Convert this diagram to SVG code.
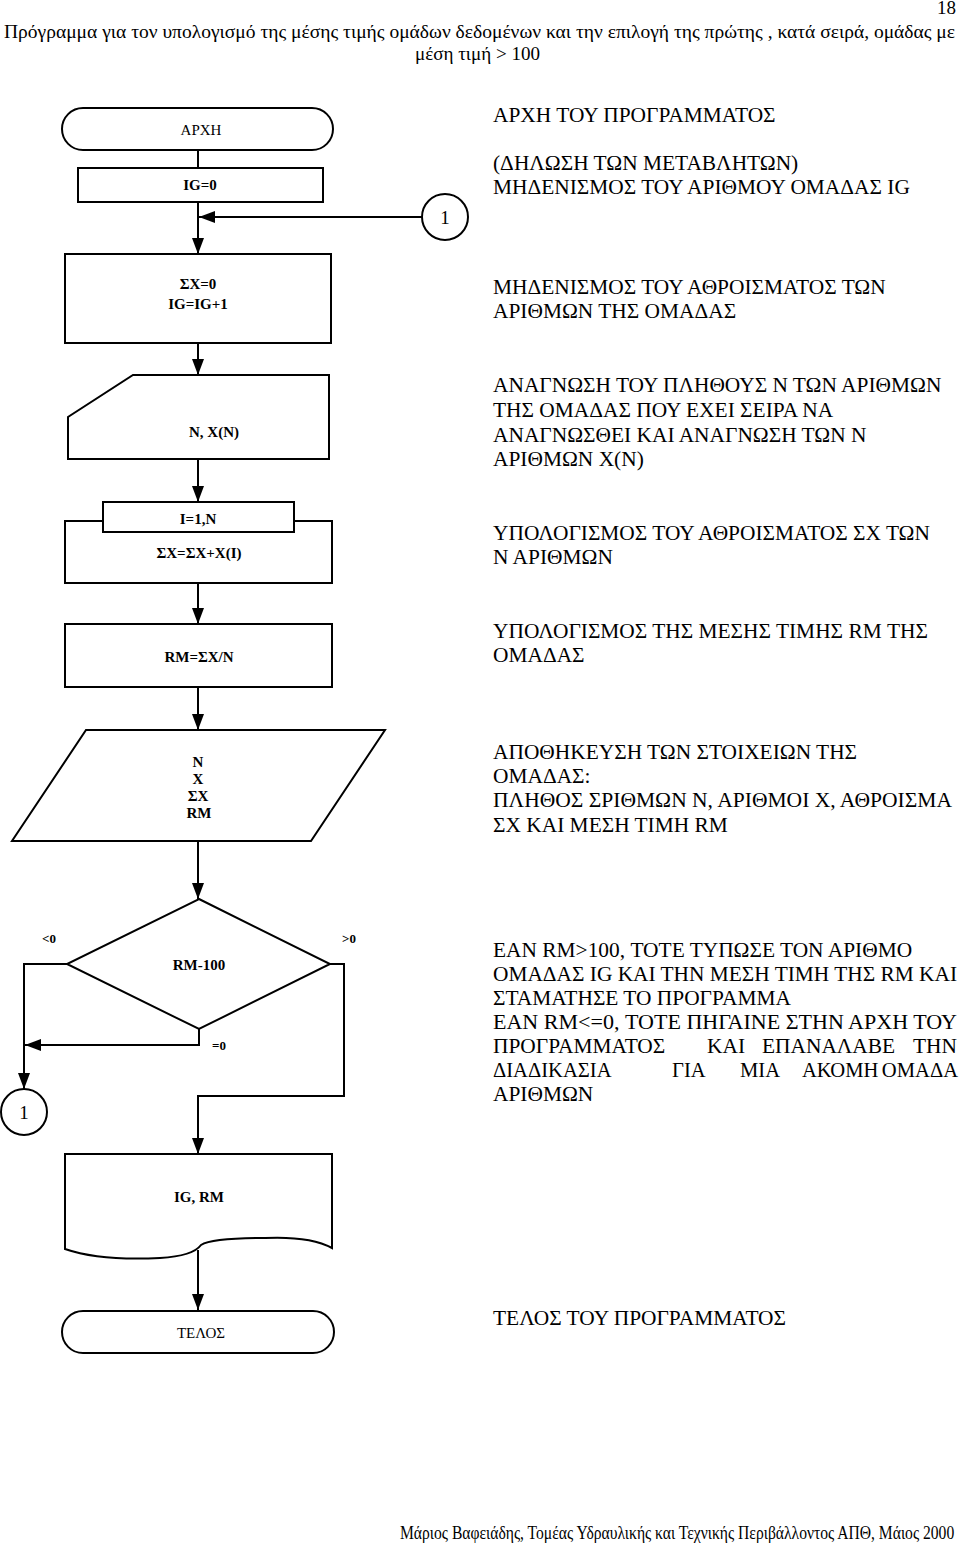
<svg xmlns="http://www.w3.org/2000/svg" width="960" height="1546" viewBox="0 0 960 1546">
<style>
.sh{fill:#fff;stroke:#000;stroke-width:2}
.ln{fill:none;stroke:#000;stroke-width:2}
.nb{font-family:"Liberation Serif","Times New Roman",serif;font-size:15px;font-weight:bold;text-anchor:middle;fill:#000}
.nr{font-family:"Liberation Serif","Times New Roman",serif;font-size:15px;text-anchor:middle;fill:#000}
.lb{font-family:"Liberation Serif","Times New Roman",serif;font-size:13px;font-weight:bold;fill:#000}
.cn{font-family:"Liberation Serif","Times New Roman",serif;font-size:19px;text-anchor:middle;fill:#000}
.rt{font-family:"Liberation Serif","Times New Roman",serif;font-size:21.4px;fill:#000}
.hd{font-family:"Liberation Serif","Times New Roman",serif;font-size:19px;fill:#000}
</style>
<defs>
<marker id="ah" markerUnits="userSpaceOnUse" markerWidth="16" markerHeight="12" viewBox="0 0 16 12" refX="16" refY="6" orient="auto">
<path d="M0,0 L16,6 L0,12 Z" fill="#000"/>
</marker>
</defs>
<rect width="960" height="1546" fill="#fff"/>

<g id="header">
<text class="hd" x="956" y="14" text-anchor="end">18</text>
<text class="hd" x="4" y="38" textLength="951" lengthAdjust="spacingAndGlyphs">Πρόγραμμα για τον υπολογισμό της μέσης τιμής ομάδων δεδομένων και την επιλογή της πρώτης , κατά σειρά, ομάδας με</text>
<text class="hd" x="415" y="60" textLength="125" lengthAdjust="spacingAndGlyphs">μέση τιμή &gt; 100</text>
</g>

<g id="connectors">
<line class="ln" x1="198" y1="150" x2="198" y2="168"/>
<line class="ln" x1="198" y1="202" x2="198" y2="254" marker-end="url(#ah)"/>
<line class="ln" x1="422" y1="217" x2="199" y2="217" marker-end="url(#ah)"/>
<line class="ln" x1="198" y1="343" x2="198" y2="375" marker-end="url(#ah)"/>
<line class="ln" x1="198" y1="459" x2="198" y2="502" marker-end="url(#ah)"/>
<line class="ln" x1="198" y1="583" x2="198" y2="624" marker-end="url(#ah)"/>
<line class="ln" x1="198" y1="687" x2="198" y2="730" marker-end="url(#ah)"/>
<line class="ln" x1="198" y1="841" x2="198" y2="899" marker-end="url(#ah)"/>
<polyline class="ln" points="67,964 24,964 24,1089" marker-end="url(#ah)"/>
<polyline class="ln" points="199,1029 199,1045 25,1045" marker-end="url(#ah)"/>
<polyline class="ln" points="330,964 344,964 344,1096 198,1096 198,1154" marker-end="url(#ah)"/>
<line class="ln" x1="198" y1="1250" x2="198" y2="1310" marker-end="url(#ah)"/>
<text class="lb" x="42" y="943">&lt;0</text>
<text class="lb" x="342" y="943">&gt;0</text>
<text class="lb" x="212" y="1050">=0</text>
</g>

<g id="start">
<rect class="sh" x="62" y="108" width="271" height="42" rx="21"/>
<text class="nr" x="201" y="135">ΑΡΧΗ</text>
</g>
<g id="init">
<rect class="sh" x="78" y="168" width="245" height="34"/>
<text class="nb" x="200" y="190">IG=0</text>
</g>
<g id="conn1-top">
<circle class="sh" cx="445" cy="217" r="23"/>
<text class="cn" x="445" y="224">1</text>
</g>
<g id="reset">
<rect class="sh" x="65" y="254" width="266" height="89"/>
<text class="nb" x="198" y="289">ΣX=0</text>
<text class="nb" x="198" y="309">IG=IG+1</text>
</g>
<g id="input">
<path class="sh" d="M133,375 H329 V459 H68 V417 Z"/>
<text class="nb" x="214" y="437">N, X(N)</text>
</g>
<g id="loop">
<rect class="sh" x="65" y="521" width="267" height="62"/>
<rect class="sh" x="103" y="502" width="191" height="30"/>
<text class="nb" x="198" y="524">I=1,N</text>
<text class="nb" x="199" y="558">ΣX=ΣX+X(I)</text>
</g>
<g id="mean">
<rect class="sh" x="65" y="624" width="267" height="63"/>
<text class="nb" x="199" y="662">RM=ΣX/N</text>
</g>
<g id="store">
<path class="sh" d="M86,730 H385 L311,841 H12 Z"/>
<text class="nb" x="198" y="767">N</text>
<text class="nb" x="198" y="784">X</text>
<text class="nb" x="198" y="801">ΣX</text>
<text class="nb" x="199" y="818">RM</text>
</g>
<g id="decision">
<path class="sh" d="M199,899 L330,964 L199,1029 L67,964 Z"/>
<text class="nb" x="199" y="970">RM-100</text>
</g>
<g id="conn1-bottom">
<circle class="sh" cx="24" cy="1112" r="23"/>
<text class="cn" x="24" y="1119">1</text>
</g>
<g id="output">
<path class="sh" d="M65,1154 H332 V1248 Q310,1236 265,1238 Q212,1238 201,1245 Q193,1256 160,1258 Q100,1261 65,1249 Z"/>
<text class="nb" x="199" y="1202">IG, RM</text>
</g>
<g id="end">
<rect class="sh" x="62" y="1311" width="272" height="42" rx="21"/>
<text class="nr" x="201" y="1338">ΤΕΛΟΣ</text>
</g>

<g id="descriptions">
<text class="rt" x="493" y="122">ΑΡΧΗ ΤΟΥ ΠΡΟΓΡΑΜΜΑΤΟΣ</text>
<text class="rt" x="493" y="170">(ΔΗΛΩΣΗ ΤΩΝ ΜΕΤΑΒΛΗΤΩΝ)</text>
<text class="rt" x="493" y="194">ΜΗΔΕΝΙΣΜΟΣ ΤΟΥ ΑΡΙΘΜΟΥ ΟΜΑΔΑΣ IG</text>
<text class="rt" x="493" y="294">ΜΗΔΕΝΙΣΜΟΣ ΤΟΥ ΑΘΡΟΙΣΜΑΤΟΣ ΤΩΝ</text>
<text class="rt" x="493" y="318">ΑΡΙΘΜΩΝ ΤΗΣ ΟΜΑΔΑΣ</text>
<text class="rt" x="493" y="392">ΑΝΑΓΝΩΣΗ ΤΟΥ ΠΛΗΘΟΥΣ Ν ΤΩΝ ΑΡΙΘΜΩΝ</text>
<text class="rt" x="493" y="417">ΤΗΣ ΟΜΑΔΑΣ ΠΟΥ ΕΧΕΙ ΣΕΙΡΑ ΝΑ</text>
<text class="rt" x="493" y="442">ΑΝΑΓΝΩΣΘΕΙ ΚΑΙ ΑΝΑΓΝΩΣΗ ΤΩΝ Ν</text>
<text class="rt" x="493" y="466">ΑΡΙΘΜΩΝ Χ(Ν)</text>
<text class="rt" x="493" y="540">ΥΠΟΛΟΓΙΣΜΟΣ ΤΟΥ ΑΘΡΟΙΣΜΑΤΟΣ ΣΧ ΤΩΝ</text>
<text class="rt" x="493" y="564">Ν ΑΡΙΘΜΩΝ</text>
<text class="rt" x="493" y="638">ΥΠΟΛΟΓΙΣΜΟΣ ΤΗΣ ΜΕΣΗΣ ΤΙΜΗΣ RM ΤΗΣ</text>
<text class="rt" x="493" y="662">ΟΜΑΔΑΣ</text>
<text class="rt" x="493" y="759">ΑΠΟΘΗΚΕΥΣΗ ΤΩΝ ΣΤΟΙΧΕΙΩΝ ΤΗΣ</text>
<text class="rt" x="493" y="783">ΟΜΑΔΑΣ:</text>
<text class="rt" x="493" y="807" textLength="459" lengthAdjust="spacingAndGlyphs">ΠΛΗΘΟΣ ΣΡΙΘΜΩΝ Ν, ΑΡΙΘΜΟΙ Χ, ΑΘΡΟΙΣΜΑ</text>
<text class="rt" x="493" y="832">ΣΧ ΚΑΙ ΜΕΣΗ ΤΙΜΗ RM</text>
<text class="rt" x="493" y="957">ΕΑΝ RM&gt;100, ΤΟΤΕ ΤΥΠΩΣΕ ΤΟΝ ΑΡΙΘΜΟ</text>
<text class="rt" x="493" y="981" textLength="464" lengthAdjust="spacingAndGlyphs">ΟΜΑΔΑΣ IG ΚΑΙ ΤΗΝ ΜΕΣΗ ΤΙΜΗ ΤΗΣ RM ΚΑΙ</text>
<text class="rt" x="493" y="1005">ΣΤΑΜΑΤΗΣΕ ΤΟ ΠΡΟΓΡΑΜΜΑ</text>
<text class="rt" x="493" y="1029" textLength="464" lengthAdjust="spacingAndGlyphs">ΕΑΝ RM&lt;=0, ΤΟΤΕ ΠΗΓΑΙΝΕ ΣΤΗΝ ΑΡΧΗ ΤΟΥ</text>
<text class="rt" y="1053"><tspan x="493">ΠΡΟΓΡΑΜΜΑΤΟΣ</tspan><tspan x="707">ΚΑΙ</tspan><tspan x="762">ΕΠΑΝΑΛΑΒΕ</tspan><tspan x="957" text-anchor="end">ΤΗΝ</tspan></text>
<text class="rt" y="1077" style="font-size:20.6px"><tspan x="493">ΔΙΑΔΙΚΑΣΙΑ</tspan><tspan x="672">ΓΙΑ</tspan><tspan x="740">ΜΙΑ</tspan><tspan x="802">ΑΚΟΜΗ</tspan><tspan x="958" text-anchor="end">ΟΜΑΔΑ</tspan></text>
<text class="rt" x="493" y="1101">ΑΡΙΘΜΩΝ</text>
<text class="rt" x="493" y="1325">ΤΕΛΟΣ ΤΟΥ ΠΡΟΓΡΑΜΜΑΤΟΣ</text>
</g>

<g id="footer">
<text class="hd" transform="translate(400,1539) scale(0.85,1)" x="0" y="0" textLength="652" lengthAdjust="spacingAndGlyphs" style="font-size:18px">Μάριος Βαφειάδης, Τομέας Υδραυλικής και Τεχνικής Περιβάλλοντος ΑΠΘ, Μάιος 2000</text>
</g>
</svg>
